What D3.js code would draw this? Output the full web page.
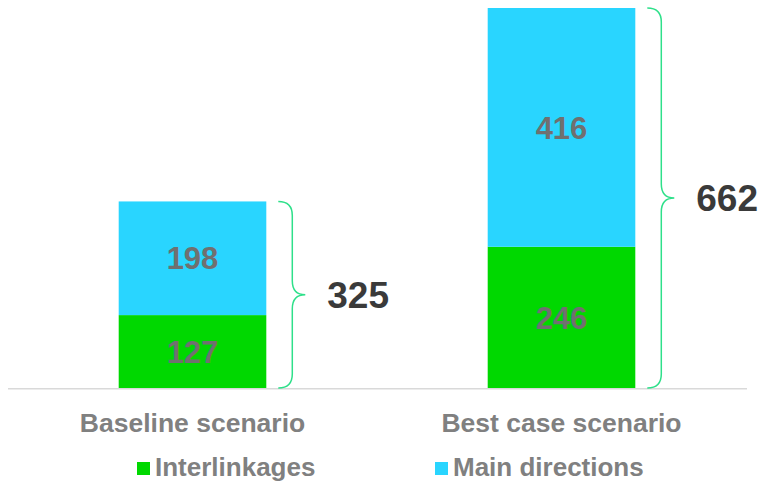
<!DOCTYPE html>
<html>
<head>
<meta charset="utf-8">
<script src="https://cdn.jsdelivr.net/npm/d3@7"></script>
<style>
  body { margin: 0; background: #fff; }
  text { font-family: "Liberation Sans", Arial, sans-serif; font-weight: bold; }
</style>
</head>
<body>
<div id="chart"></div>
<script>
const categories = ["Baseline scenario", "Best case scenario"];
const seriesNames = ["Interlinkages", "Main directions"];
const interlinkages = [127, 246];
const mainDirections = [198, 416];
const seriesColors = ["#00d800", "#29d5ff"];

const w = 762;
const h = 483;

const svg = d3.select("#chart")
  .append("svg")
  .attr("width", w)
  .attr("height", h);

const xScale = d3.scaleBand()
  .domain(categories)
  .range([8, 746])
  .paddingInner(0.6)
  .paddingOuter(0.3);

const yScale = d3.scaleLinear()
  .domain([0, 662])
  .range([388, 8]);

// stack the two series per category
const rows = categories.map((c, i) => ({ cat: c, Interlinkages: interlinkages[i], "Main directions": mainDirections[i] }));
const stacked = d3.stack().keys(seriesNames)(rows);

// baseline
svg.append("line")
  .attr("x1", 8).attr("x2", 747)
  .attr("y1", yScale(0) + 0.8).attr("y2", yScale(0) + 0.8)
  .attr("stroke", "#d9d9d9")
  .attr("stroke-width", 1.5);

const layer = svg.selectAll("g.layer")
  .data(stacked)
  .enter().append("g")
  .attr("class", "layer")
  .attr("fill", (d, i) => seriesColors[i]);

layer.selectAll("rect")
  .data(d => d)
  .enter().append("rect")
  .attr("x", d => xScale(d.data.cat))
  .attr("y", d => yScale(d[1]))
  .attr("width", xScale.bandwidth())
  .attr("height", d => yScale(d[0]) - yScale(d[1]));

layer.selectAll("text")
  .data(d => d)
  .enter().append("text")
  .attr("x", d => xScale(d.data.cat) + xScale.bandwidth() / 2)
  .attr("y", d => (yScale(d[0]) + yScale(d[1])) / 2)
  .attr("dy", "0.36em")
  .attr("text-anchor", "middle")
  .attr("fill", "#707070")
  .style("font-size", "31px")
  .text(d => d[1] - d[0]);

// braces + totals
const totals = categories.map((c, i) => interlinkages[i] + mainDirections[i]);

function bracePath(x0, top, bottom) {
  const xv = x0 + 14, xt = x0 + 27, r = 14;
  const mid = (top + bottom) / 2;
  return "M" + x0 + "," + top +
    " Q" + xv + "," + top + " " + xv + "," + (top + r) +
    " L" + xv + "," + (mid - r) +
    " Q" + xv + "," + mid + " " + xt + "," + mid +
    " Q" + xv + "," + mid + " " + xv + "," + (mid + r) +
    " L" + xv + "," + (bottom - r) +
    " Q" + xv + "," + bottom + " " + x0 + "," + bottom;
}

categories.forEach((c, i) => {
  const x0 = xScale(c) + xScale.bandwidth() + 12;
  const top = yScale(totals[i]);
  const bottom = yScale(0);
  svg.append("path")
    .attr("d", bracePath(x0, top, bottom))
    .attr("fill", "none")
    .attr("stroke", "#2ee08a")
    .attr("stroke-width", 1.5);
  svg.append("text")
    .attr("x", x0 + 49)
    .attr("y", (top + bottom) / 2)
    .attr("dy", "0.36em")
    .attr("fill", "#3a3a3a")
    .style("font-size", "37px")
    .text(totals[i]);
});

// category labels
svg.selectAll("text.cat")
  .data(categories)
  .enter().append("text")
  .attr("class", "cat")
  .attr("x", d => xScale(d) + xScale.bandwidth() / 2)
  .attr("y", 432)
  .attr("text-anchor", "middle")
  .attr("fill", "#808080")
  .style("font-size", "26.5px")
  .text(d => d);

// legend
const legendX = [137, 435];
const legend = svg.selectAll("g.legend")
  .data(seriesNames)
  .enter().append("g")
  .attr("class", "legend")
  .attr("transform", (d, i) => "translate(" + legendX[i] + ",462)");

legend.append("rect")
  .attr("width", 13)
  .attr("height", 13)
  .attr("fill", (d, i) => seriesColors[i]);

legend.append("text")
  .attr("x", 18)
  .attr("y", 14)
  .attr("fill", "#808080")
  .style("font-size", "26px")
  .text(d => d);
</script>
</body>
</html>
